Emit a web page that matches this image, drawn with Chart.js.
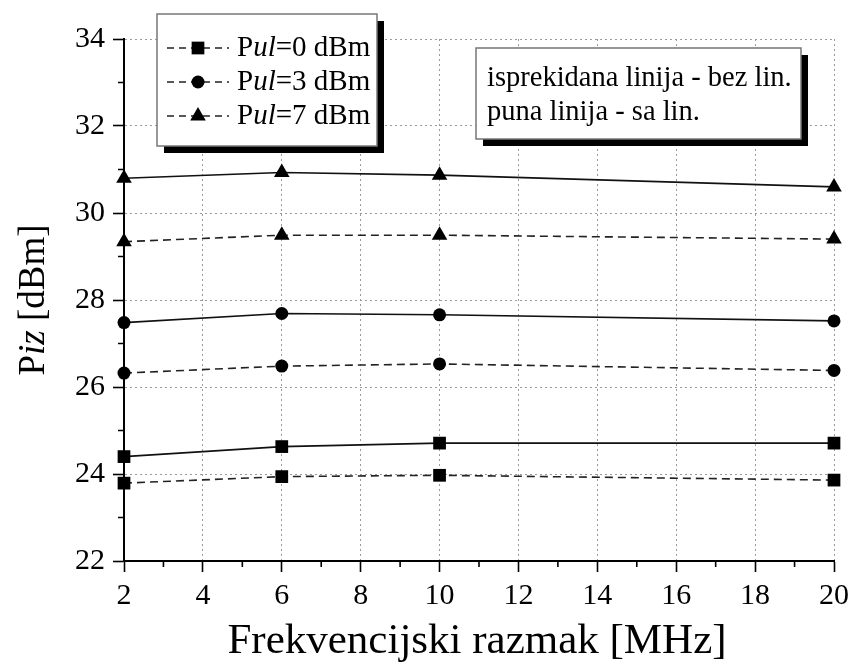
<!DOCTYPE html>
<html>
<head>
<meta charset="utf-8">
<script src="https://cdn.jsdelivr.net/npm/chart.js@4"></script>
<style>
  html, body { margin: 0; padding: 0; background: #fff; }
  #wrap { width: 855px; height: 664px; position: relative; }
</style>
</head>
<body>
<div id="wrap"><canvas id="chart"></canvas></div>
<script>
// frequency spacing (MHz)
const freqs = [2, 6, 10, 20];

// Piz [dBm], dashed = without linearization, solid = with linearization
const sq0Dashed = [23.79, 23.94, 23.97, 23.86];
const sq0Solid = [24.40, 24.63, 24.71, 24.71];
const circ3Dashed = [26.32, 26.48, 26.53, 26.38];
const circ3Solid = [27.48, 27.69, 27.66, 27.52];
const tri7Dashed = [29.34, 29.49, 29.49, 29.40];
const tri7Solid = [30.80, 30.93, 30.87, 30.60];

const legendNames = ["0", "3", "7"]; // Pul values
const xTicks = [2, 4, 6, 8, 10, 12, 14, 16, 18, 20];
const yTicks = [22, 24, 26, 28, 30, 32, 34];
const noteLines = ["isprekidana linija - bez lin.", "puna linija - sa lin."];

const SERIF = "'Liberation Serif', 'DejaVu Serif', serif";

function pts(vals) {
  return vals.map((v, i) => ({ x: freqs[i], y: v }));
}

function series(vals, style, radius, dashed) {
  return {
    data: pts(vals),
    borderColor: dashed ? "#222" : "#111",
    borderWidth: 1.6,
    borderDash: dashed ? [8, 5] : [],
    pointStyle: style,
    pointRadius: radius,
    pointHoverRadius: radius,
    pointBackgroundColor: "#000",
    pointBorderColor: "#000",
    pointBorderWidth: 0,
    tension: 0,
    clip: false,
  };
}

// draws text with mixed upright / italic pieces
function drawRich(ctx, parts, x, y, size, align) {
  let w = 0;
  parts.forEach(([t, it]) => {
    ctx.font = (it ? "italic " : "") + size + "px " + SERIF;
    w += ctx.measureText(t).width;
  });
  let cx = align === "center" ? x - w / 2 : x;
  ctx.textAlign = "left";
  ctx.textBaseline = "middle";
  parts.forEach(([t, it]) => {
    ctx.font = (it ? "italic " : "") + size + "px " + SERIF;
    ctx.fillText(t, cx, y);
    cx += ctx.measureText(t).width;
  });
}

function shadowBox(ctx, x1, y1, x2, y2, off) {
  ctx.fillStyle = "#000";
  ctx.fillRect(x1 + off, y1 + off, x2 - x1, y2 - y1);
  ctx.fillStyle = "#fff";
  ctx.fillRect(x1, y1, x2 - x1, y2 - y1);
  ctx.strokeStyle = "#777";
  ctx.lineWidth = 1.5;
  ctx.strokeRect(x1, y1, x2 - x1, y2 - y1);
}

const extras = {
  id: "extras",
  afterDraw(chart) {
    const ctx = chart.ctx;
    const xs = chart.scales.x, ys = chart.scales.y;
    ctx.save();

    // minor ticks
    ctx.strokeStyle = "#000";
    ctx.lineWidth = 1.6;
    ctx.beginPath();
    for (let v = 3; v < 20; v += 2) {
      const px = xs.getPixelForValue(v);
      ctx.moveTo(px, ys.bottom);
      ctx.lineTo(px, ys.bottom + 6);
    }
    for (let v = 23; v < 34; v += 2) {
      const py = ys.getPixelForValue(v);
      ctx.moveTo(xs.left, py);
      ctx.lineTo(xs.left - 6, py);
    }
    ctx.stroke();

    // axis titles
    ctx.fillStyle = "#000";
    drawRich(ctx, [["Frekvencijski razmak [MHz]", false]], (xs.left + xs.right) / 2 - 2, 642, 43, "center");
    ctx.save();
    ctx.translate(34, (ys.top + ys.bottom) / 2);
    ctx.rotate(-Math.PI / 2);
    drawRich(ctx, [["P", false], ["iz", true], [" [dBm]", false]], 0, 0, 37, "center");
    ctx.restore();

    // legend box
    shadowBox(ctx, 157, 14, 377, 146, 7);
    const dashedSets = [0, 2, 4];
    dashedSets.forEach((di, i) => {
      const ds = chart.data.datasets[di];
      const cy = 48 + i * 34;
      ctx.strokeStyle = "#222";
      ctx.lineWidth = 1.6;
      ctx.setLineDash([7, 5]);
      ctx.beginPath();
      ctx.moveTo(167, cy);
      ctx.lineTo(229, cy);
      ctx.stroke();
      ctx.setLineDash([]);
      ctx.fillStyle = "#000";
      Chart.helpers.drawPoint(ctx, { pointStyle: ds.pointStyle, radius: ds.pointRadius, rotation: 0, borderWidth: 0 }, 198, cy);
      ctx.fillStyle = "#000";
      drawRich(ctx, [["P", false], ["ul", true], ["=" + legendNames[i] + " dBm", false]], 237, cy, 29, "left");
    });

    // note box
    shadowBox(ctx, 476, 48, 801, 139, 7);
    ctx.fillStyle = "#000";
    noteLines.forEach((t, i) => {
      drawRich(ctx, [[t, false]], 487, 79 + i * 34, 28.5, "left");
    });

    ctx.restore();
  }
};

new Chart(document.getElementById("chart"), {
  type: "line",
  data: {
    datasets: [
      series(sq0Dashed, "rect", 9, true),
      series(sq0Solid, "rect", 9, false),
      series(circ3Dashed, "circle", 6.5, true),
      series(circ3Solid, "circle", 6.5, false),
      series(tri7Dashed, "triangle", 9, true),
      series(tri7Solid, "triangle", 9, false),
    ],
  },
  options: {
    responsive: true,
    maintainAspectRatio: false,
    animation: false,
    events: [],
    layout: { padding: { top: 39, right: 18, left: 0, bottom: 0 } },
    plugins: { legend: { display: false }, tooltip: { enabled: false } },
    scales: {
      x: {
        type: "linear",
        min: 2,
        max: 20,
        afterBuildTicks: (s) => { s.ticks = xTicks.map((v) => ({ value: v })); },
        afterFit: (s) => { s.height = 103; },
        ticks: { color: "#000", font: { family: SERIF, size: 30 }, padding: 6, maxRotation: 0 },
        grid: { color: "#9a9a9a", lineWidth: 1, tickColor: "#000", tickLength: 11, tickWidth: 1.6 },
        border: { display: true, color: "#000", width: 2, dash: [2, 3] },
      },
      y: {
        min: 22,
        max: 34,
        afterBuildTicks: (s) => { s.ticks = yTicks.map((v) => ({ value: v })); },
        afterFit: (s) => { s.width = 124; },
        ticks: { color: "#000", font: { family: SERIF, size: 30 }, padding: 8 },
        grid: { color: "#9a9a9a", lineWidth: 1, tickColor: "#000", tickLength: 11, tickWidth: 1.6 },
        border: { display: true, color: "#000", width: 2, dash: [2, 3] },
      },
    },
  },
  plugins: [extras],
});
</script>
</body>
</html>
